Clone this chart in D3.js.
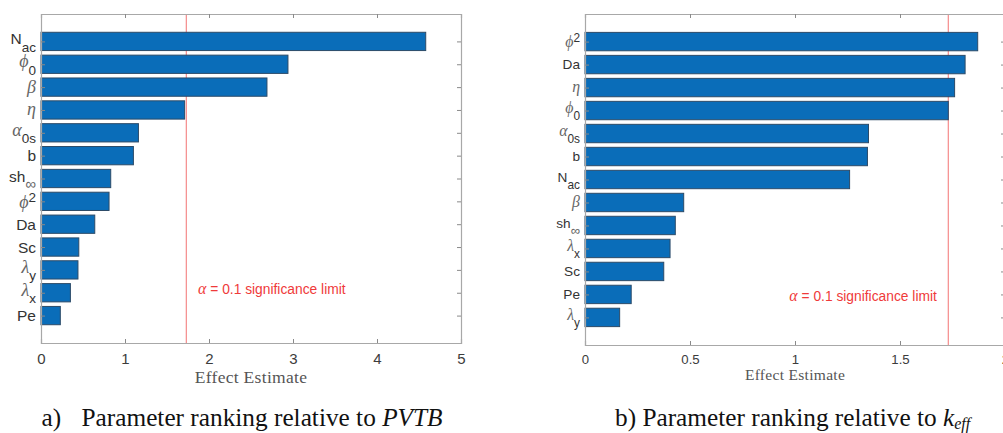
<!DOCTYPE html>
<html>
<head>
<meta charset="utf-8">
<script src="https://cdn.jsdelivr.net/npm/d3@7"></script>
<style>
  html, body { margin: 0; padding: 0; background: #fff; }
  svg { display: block; }
</style>
</head>
<body>
<svg id="fig" width="1003" height="433"></svg>
<script>
// Parameter rankings (effect estimates), listed top to bottom
const pvtbParams = ["N_{ac}", "\\phi_0", "\\beta", "\\eta", "\\alpha_{0s}", "b", "sh_\\infty", "\\phi^2", "Da", "Sc", "\\lambda_y", "\\lambda_x", "Pe"];
const pvtbEffects = [4.58, 2.94, 2.69, 1.71, 1.16, 1.10, 0.83, 0.81, 0.64, 0.45, 0.44, 0.35, 0.23];

const keffParams = ["\\phi^2", "Da", "\\eta", "\\phi_0", "\\alpha_{0s}", "b", "N_{ac}", "\\beta", "sh_\\infty", "\\lambda_x", "Sc", "Pe", "\\lambda_y"];
const keffEffects = [1.87, 1.81, 1.76, 1.73, 1.35, 1.345, 1.26, 0.47, 0.43, 0.405, 0.375, 0.22, 0.165];

const pvtbTicks = [0, 1, 2, 3, 4, 5];
const keffTicks = [0, 0.5, 1, 1.5, 2];

// significance threshold for alpha = 0.1
const significanceLimit = 1.73;
const limitLabel = "= 0.1 significance limit";

const svg = d3.select("#fig");
const SANS = "'Liberation Sans', Arial, Helvetica, sans-serif";
const SERIF = "'Liberation Serif', 'Times New Roman', 'DejaVu Serif', serif";

const greek = { "\\phi": "\u03D5", "\\beta": "\u03B2", "\\eta": "\u03B7", "\\alpha": "\u03B1", "\\lambda": "\u03BB" };

// split a small TeX-like label into base / sub / sup parts
function parseLabel(s) {
  const m = s.match(/^(\\[a-z]+|[A-Za-z]+)(?:([_^])(\{[^}]*\}|\\[a-z]+|.))?$/);
  let base = m[1], mark = m[2], rest = m[3];
  const isGreek = base.startsWith("\\");
  if (isGreek) base = greek[base];
  let script = null;
  if (rest) {
    if (rest.startsWith("{")) rest = rest.slice(1, -1);
    if (rest === "\\infty") rest = "\u221E";
    script = rest;
  }
  return { base, isGreek, mark, script };
}

function drawPanel(cfg) {
  const g = svg.append("g");
  const x = d3.scaleLinear().domain(cfg.domain).range([cfg.left, cfg.right]);
  const y = d3.scaleLinear().domain([-1.2, cfg.params.length - 1 + 1.2]).range([cfg.top, cfg.bottom]);
  const s = cfg.scale;
  const barH = Math.abs(y(0.8) - y(0));

  // red significance line
  g.append("line")
    .attr("x1", x(significanceLimit)).attr("x2", x(significanceLimit))
    .attr("y1", cfg.top).attr("y2", cfg.bottom)
    .attr("stroke", "#f58a8a").attr("stroke-width", 1.2);

  // bars
  g.selectAll("rect.bar").data(cfg.values).join("rect")
    .attr("class", "bar")
    .attr("x", x(0))
    .attr("y", (d, i) => y(i) - barH / 2)
    .attr("width", d => x(d) - x(0))
    .attr("height", barH)
    .attr("fill", "#0a6db9")
    .attr("stroke", "#2c4b68")
    .attr("stroke-width", 1);

  // axes (ticks point inward, boxed)
  const tickCol = "#8a8a8a";
  const xb = d3.axisBottom(x).tickValues(cfg.ticks).tickSize(-4).tickFormat(d3.format("~g")).tickPadding(10);
  const xt = d3.axisTop(x).tickValues(cfg.ticks).tickSize(-4).tickFormat("");
  const idx = d3.range(cfg.params.length);
  const yl = d3.axisLeft(y).tickValues(idx).tickSize(-4).tickFormat("");
  const yr = d3.axisRight(y).tickValues(idx).tickSize(-4).tickFormat("");

  const gb = g.append("g").attr("transform", `translate(0,${cfg.bottom})`).call(xb);
  gb.selectAll("text").attr("font-family", SANS).attr("font-size", 15 * s).attr("fill", "#3c3c3c");
  g.append("g").attr("transform", `translate(0,${cfg.top})`).call(xt);
  g.append("g").attr("transform", `translate(${cfg.left},0)`).call(yl);
  g.append("g").attr("transform", `translate(${cfg.right},0)`).call(yr);
  g.selectAll(".domain").attr("stroke", "#a8a8a8").attr("stroke-width", 1.2);
  g.selectAll(".tick line").attr("stroke", tickCol);

  // category labels
  cfg.params.forEach((p, i) => {
    const L = parseLabel(p);
    const cy = y(i);
    let baseline = cy + 5.5 * s;
    if (L.mark === "_") baseline = cy + 3 * s;
    if (L.mark === "^") baseline = cy + 6.5 * s;
    const t = g.append("text")
      .attr("x", cfg.left - 5)
      .attr("y", baseline)
      .attr("text-anchor", "end")
      .attr("font-family", SANS)
      .attr("fill", "#333");
    t.append("tspan")
      .text(L.base)
      .attr("font-family", L.isGreek ? SERIF : SANS)
      .attr("font-style", L.isGreek ? "italic" : "normal")
      .attr("fill", L.isGreek ? "#666" : "#333")
      .attr("font-size", (L.isGreek ? 18 : 15.5) * s);
    if (L.script) {
      t.append("tspan")
        .text(L.script)
        .attr("font-size", (L.script === "\u221E" ? 15 : 13.5) * s)
        .attr("fill", L.script === "\u221E" ? "#666" : "#333")
        .attr("dy", (L.mark === "_" ? 7.5 : -6) * s);
    }
  });

  // x-axis title
  g.append("text")
    .attr("x", (x(cfg.domain[0]) + x(cfg.domain[1])) / 2)
    .attr("y", cfg.bottom + 39.5 * s)
    .attr("text-anchor", "middle")
    .attr("font-family", SERIF)
    .attr("font-size", cfg.titleSize)
    .attr("letter-spacing", 0.3)
    .attr("fill", "#555")
    .text("Effect Estimate");

  // significance annotation
  const a = g.append("text")
    .attr("x", x(cfg.noteAt[0]))
    .attr("y", y(cfg.noteAt[1]))
    .attr("dominant-baseline", "middle")
    .attr("font-family", SANS)
    .attr("font-size", cfg.noteSize)
    .attr("fill", "#ef3a3a");
  a.append("tspan").attr("font-family", SERIF).attr("font-style", "italic").attr("font-size", cfg.noteSize * 1.15).text("\u03B1");
  a.append("tspan").text(" " + limitLabel);
}

drawPanel({
  params: pvtbParams, values: pvtbEffects, ticks: pvtbTicks, domain: [0, 5],
  left: 41, right: 461, top: 14, bottom: 343, scale: 1,
  noteAt: [1.87, 10.86], noteSize: 13.8, titleSize: 17.5
});

drawPanel({
  params: keffParams, values: keffEffects, ticks: keffTicks, domain: [0, 2],
  left: 585, right: 1005, top: 14, bottom: 345, scale: 0.88,
  noteAt: [0.973, 11.1], noteSize: 13.8, titleSize: 15.5
});

// captions
const cap = svg.append("g").attr("font-family", SERIF).attr("font-size", 25.3).attr("fill", "#111");
cap.append("text").attr("x", 41.5).attr("y", 426).text("a)");
const ca = cap.append("text").attr("x", 81.5).attr("y", 426);
ca.append("tspan").text("Parameter ranking relative to ");
ca.append("tspan").attr("font-style", "italic").text("PVTB");
const cb = cap.append("text").attr("x", 615).attr("y", 426);
cb.append("tspan").text("b) Parameter ranking relative to ");
cb.append("tspan").attr("font-style", "italic").text("k");
cb.append("tspan").attr("font-style", "italic").attr("font-size", 16).attr("dy", 3).text("eff");
</script>
</body>
</html>
